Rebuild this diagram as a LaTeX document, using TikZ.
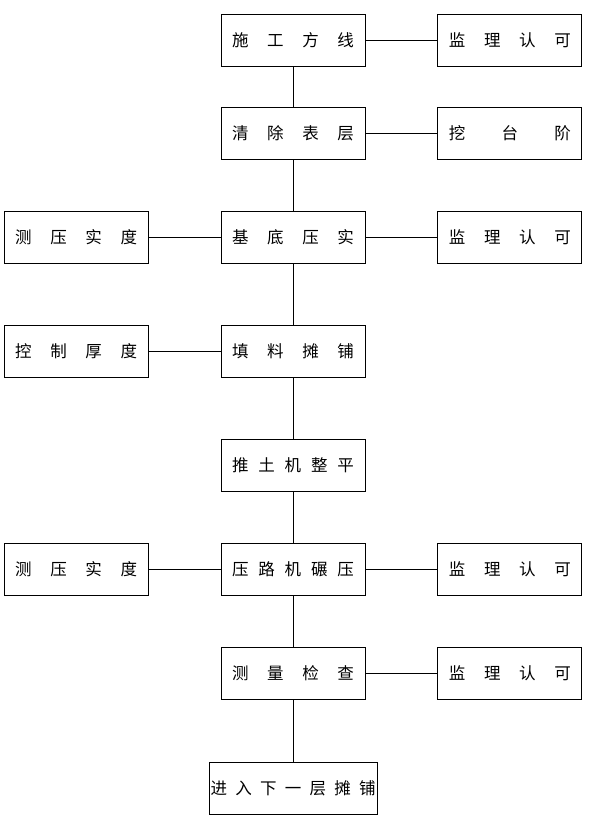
\documentclass[tikz,border=0pt]{standalone}
\usepackage{fontspec}
\usepackage{tikz}
\usetikzlibrary{positioning}
\newfontfamily\cjk{Noto Sans CJK SC}
% spread the characters over a fixed width
\newcommand{\spreadtext}[2][122pt]{\makebox[#1][s]{#2}}
\tikzset{
  stepbox/.style={draw, line width=0.9pt, minimum width=144pt, minimum height=52pt, inner sep=0pt, font=\cjk\fontsize{16.5}{18}\selectfont},
  link/.style={line width=0.9pt}
}

\begin{document}
\begin{tikzpicture}[x=1pt, y=1pt, node distance=72pt]
  \useasboundingbox (0,0) rectangle (592,-820);
  % main column
  \node (fangxian) [stepbox] at (293,-40) {\spreadtext{施 工 方 线}};
  \node (qingchu) [stepbox] at (293,-133) {\spreadtext{清 除 表 层}};
  \node (jidi) [stepbox] at (293,-237) {\spreadtext{基 底 压 实}};
  \node (tianliao) [stepbox] at (293,-351) {\spreadtext{填 料 摊 铺}};
  \node (tuituji) [stepbox] at (293,-465) {\spreadtext{推 土 机 整 平}};
  \node (yaluji) [stepbox] at (293,-569) {\spreadtext{压 路 机 碾 压}};
  \node (celiang) [stepbox] at (293,-673) {\spreadtext{测 量 检 查}};
  \node (xiaceng) [stepbox, minimum width=168pt] at (293,-788) {\spreadtext[165pt]{进 入 下 一 层 摊 铺}};

  % right side
  \node (jianli1) [stepbox, right=of fangxian] {\spreadtext{监 理 认 可}};
  \node (taijie) [stepbox, right=of qingchu] {\spreadtext{挖 台 阶}};
  \node (jianli2) [stepbox, right=of jidi] {\spreadtext{监 理 认 可}};
  \node (jianli3) [stepbox, right=of yaluji] {\spreadtext{监 理 认 可}};
  \node (jianli4) [stepbox, right=of celiang] {\spreadtext{监 理 认 可}};

  % left side
  \node (yashi1) [stepbox, left=of jidi] {\spreadtext{测 压 实 度}};
  \node (houdu) [stepbox, left=of tianliao] {\spreadtext{控 制 厚 度}};
  \node (yashi2) [stepbox, left=of yaluji] {\spreadtext{测 压 实 度}};

  \draw[link] (fangxian) -- (qingchu);
  \draw[link] (qingchu) -- (jidi);
  \draw[link] (jidi) -- (tianliao);
  \draw[link] (tianliao) -- (tuituji);
  \draw[link] (tuituji) -- (yaluji);
  \draw[link] (yaluji) -- (celiang);
  \draw[link] (celiang) -- (xiaceng);

  \draw[link] (fangxian) -- (jianli1);
  \draw[link] (qingchu) -- (taijie);
  \draw[link] (jidi) -- (jianli2);
  \draw[link] (yaluji) -- (jianli3);
  \draw[link] (celiang) -- (jianli4);

  \draw[link] (yashi1) -- (jidi);
  \draw[link] (houdu) -- (tianliao);
  \draw[link] (yashi2) -- (yaluji);
\end{tikzpicture}
\end{document}
